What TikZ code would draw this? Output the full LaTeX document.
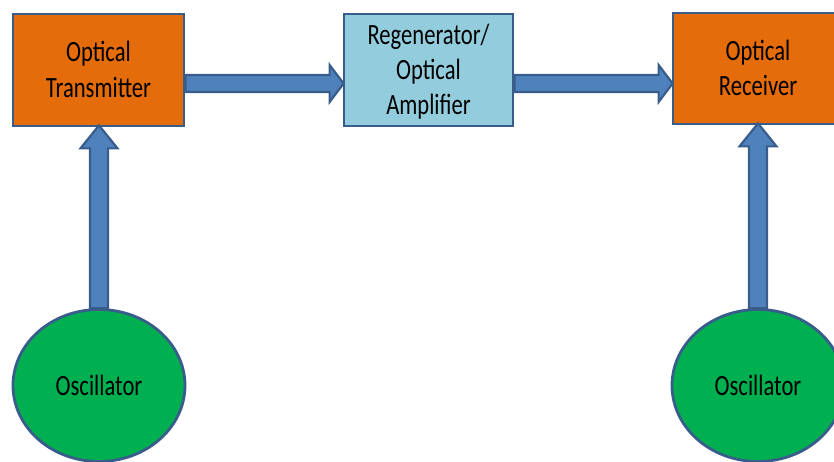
\documentclass[tikz,border=0pt]{standalone}
\usepackage{fontspec}
\setmainfont{Carlito}
\usetikzlibrary{calc,shapes.geometric}
\definecolor{orng}{HTML}{E46C0A}
\definecolor{ltblue}{HTML}{93CDDD}
\definecolor{grn}{HTML}{00B050}
\definecolor{arrblue}{HTML}{4F81BD}
\definecolor{edgeblue}{HTML}{385D8A}
\newcommand\lbl[1]{\raisebox{-2.5pt}[\height][\depth]{\scalebox{1}[1.3]{\begin{tabular}{@{}c@{}}#1\end{tabular}}}}
\newcommand\harrow[2]{%
  \draw[barrow] let \p1=(#1.east), \p2=(#2.west) in
    ({\x1},{\y1-13.5pt+8.5pt}) -- ({\x2-13pt},{\y1-13.5pt+8.5pt}) --
    ({\x2-13pt},{\y1-13.5pt+18.5pt}) -- ({\x2+1pt},{\y1-13.5pt}) --
    ({\x2-13pt},{\y1-13.5pt-18.5pt}) -- ({\x2-13pt},{\y1-13.5pt-8.5pt}) --
    ({\x1},{\y1-13.5pt-8.5pt}) -- cycle;}
\newcommand\varrow[2]{%
  \draw[barrow] let \p1=(#1.north), \p2=(#2.south) in
    ({\x1-9pt},{\y1}) -- ({\x1-9pt},{\y2-21pt}) -- ({\x1-18.5pt},{\y2-21pt}) --
    ({\x1},{\y2+2pt}) -- ({\x1+18.5pt},{\y2-21pt}) -- ({\x1+9pt},{\y2-21pt}) --
    ({\x1+9pt},{\y1}) -- cycle;}
\begin{document}
\begin{tikzpicture}[x=1pt,y=-1pt,
  box/.style={draw=edgeblue, line width=2.8pt, rectangle, inner sep=0pt,
    minimum height=112pt, font=\fontsize{22.6}{27}\selectfont, text=black},
  osc/.style={draw=edgeblue, line width=2.8pt, ellipse, fill=grn, inner sep=0pt,
    minimum width=172pt, minimum height=152pt, font=\fontsize{22.6}{27}\selectfont, text=black},
  barrow/.style={fill=arrblue, draw=edgeblue, line width=2.2pt, line join=miter}]
\useasboundingbox (0,0) rectangle (834,462);
\clip (0,0) rectangle (834,462);
\node[box, fill=orng, minimum width=171pt] (tx) at (98.5,70) {\lbl{Optical\\Transmitter}};
\node[box, fill=ltblue, minimum width=169pt] (rg) at (428.5,70) {\lbl{Regenerator/\\Optical\\Amplifier}};
\node[box, fill=orng, minimum width=170pt, minimum height=111pt] (rx) at (758,68.5) {\lbl{Optical\\Receiver}};
\node[osc] (o1) at (99,385.5) {\lbl{Oscillator}};
\node[osc] (o2) at (758,385.5) {\lbl{Oscillator}};
\harrow{tx}{rg}
\harrow{rg}{rx}
\varrow{o1}{tx}
\varrow{o2}{rx}
\end{tikzpicture}
\end{document}
